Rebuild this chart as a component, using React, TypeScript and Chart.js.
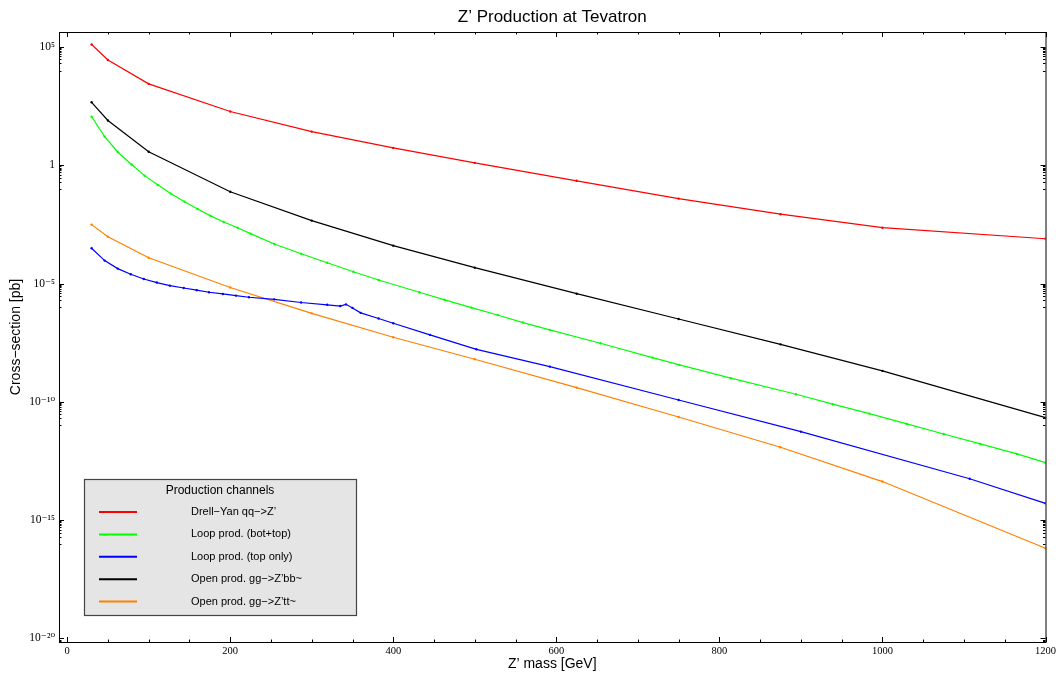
import { useEffect, useRef } from 'react';
import { Chart, registerables } from 'chart.js';

Chart.register(...registerables);

// Z' masses (GeV) where the Drell–Yan and open-production channels were evaluated
const massCoarse = [30, 50, 100, 200, 300, 400, 500, 625, 750, 875, 1000, 1200];
// Cross-sections in pb
const xsDrellYan = [1.26e5, 2.8e4, 2.75e3, 186, 26.3, 5.4, 1.26, 0.219, 0.0389, 8.5e-3, 2.29e-3, 7.8e-4];
const xsOpenBB = [457, 77.6, 3.72, 0.0759, 4.57e-3, 3.98e-4, 4.68e-5, 3.72e-6, 3.16e-7, 2.69e-8, 2.04e-9, 2.14e-11];
const xsOpenTT = [3.09e-3, 9.55e-4, 1.23e-4, 6.76e-6, 5.5e-7, 5.37e-8, 6.31e-9, 3.98e-10, 2.29e-11, 1.2e-12, 4.27e-14, 6.46e-17];

// Loop-induced production, bottom + top quarks in the loop
const massLoopBT = [30, 46, 62, 79, 95, 111, 127, 144, 160, 176, 192, 209, 225, 254, 287, 319, 351, 382, 432, 463, 496, 528, 559, 592, 654, 718, 751, 814, 894, 939, 984, 1030, 1075, 1120, 1165, 1200];
const xsLoopBT = [112, 16.2, 3.63, 1.07, 0.363, 0.148, 0.0631, 0.0288, 0.0141, 7.24e-3, 3.98e-3, 2.29e-3, 1.29e-3, 4.68e-4, 1.82e-4, 7.59e-5, 3.16e-5, 1.41e-5, 4.27e-6, 2.04e-6, 9.55e-7, 4.68e-7, 2.24e-7, 1.1e-7, 3.0e-8, 7.41e-9, 3.63e-9, 1.0e-9, 2.09e-10, 7.94e-11, 3.16e-11, 1.17e-11, 4.37e-12, 1.66e-12, 6.31e-13, 2.69e-13];

// Loop-induced production, top quark only (threshold structure near 2 m_t)
const massLoopT = [30, 46, 62, 78, 94, 110, 126, 143, 159, 174, 191, 207, 223, 254, 287, 319, 335, 342, 350, 360, 382, 400, 445, 502, 592, 750, 900, 1107, 1200];
const xsLoopT = [3.09e-4, 9.33e-5, 4.27e-5, 2.45e-5, 1.55e-5, 1.1e-5, 8.13e-6, 6.46e-6, 5.25e-6, 4.27e-6, 3.63e-6, 3.09e-6, 2.63e-6, 2.14e-6, 1.58e-6, 1.26e-6, 1.12e-6, 1.32e-6, 9.33e-7, 5.75e-7, 3.31e-7, 2.09e-7, 6.76e-8, 1.66e-8, 3.09e-9, 1.2e-10, 5.5e-12, 5.62e-14, 5.13e-15];

const channelLabels = ['Drell\u2212Yan qq\u2212>Z\u2019', 'Loop prod. (bot+top)', 'Loop prod. (top only)', 'Open prod. gg\u2212>Z\u2019bb~', 'Open prod. gg\u2212>Z\u2019tt~'];
const channelColors = ['#ff0000', '#00ff00', '#0000ff', '#000000', '#ff8000'];

const xTickValues = [0, 200, 400, 600, 800, 1000, 1200];
const yTickExponents = [5, 0, -5, -10, -15, -20];
const yTickLabels = ['10\u2075', '1', '10\u207b\u2075', '10\u207b\u00b9\u2070', '10\u207b\u00b9\u2075', '10\u207b\u00b2\u2070'];

const chartTitle = 'Z\u2019 Production at Tevatron';
const legendTitle = 'Production channels';
const xTitle = 'Z\u2019 mass [GeV]';
const yTitle = 'Cross\u2212section [pb]';

const SANS = '"Liberation Sans", Arial, Helvetica, sans-serif';
const SERIF = '"Liberation Serif", "DejaVu Serif", "Times New Roman", serif';

const toPoints = (xs: number[], ys: number[]) => xs.map((x, i) => ({ x, y: ys[i] }));

// Frame with inward ticks on all four sides, the title and the boxed legend
const decorPlugin = {
  id: 'decor',
  afterDraw(chart: any) {
    const { ctx, chartArea, scales } = chart;
    const { left, right, top, bottom } = chartArea;
    const xs = scales.x;
    const ys = scales.y;
    ctx.save();

    ctx.strokeStyle = '#000';
    ctx.lineWidth = 1;
    ctx.strokeRect(left + 0.5, top + 0.5, right - left, bottom - top);

    ctx.beginPath();
    for (let v = 0; v <= 1200; v += 50) {
      const px = Math.round(xs.getPixelForValue(v)) + 0.5;
      const len = v % 200 === 0 ? 5 : 2.5;
      ctx.moveTo(px, bottom);
      ctx.lineTo(px, bottom - len);
      ctx.moveTo(px, top);
      ctx.lineTo(px, top + len);
    }
    const yMin = ys.min;
    const yMax = ys.max;
    yTickExponents.forEach((e) => {
      const major = Math.pow(10, e);
      if (major >= yMin && major <= yMax) {
        const py = Math.round(ys.getPixelForValue(major)) + 0.5;
        ctx.moveTo(left, py);
        ctx.lineTo(left + 5, py);
        ctx.moveTo(right, py);
        ctx.lineTo(right - 5, py);
      }
      for (let m = 1; m <= 9; m++) {
        const v = m * Math.pow(10, e - 1);
        if (v < yMin || v > yMax) continue;
        const py = Math.round(ys.getPixelForValue(v)) + 0.5;
        ctx.moveTo(left, py);
        ctx.lineTo(left + 2.5, py);
        ctx.moveTo(right, py);
        ctx.lineTo(right - 2.5, py);
      }
    });
    ctx.stroke();

    // title
    ctx.fillStyle = '#000';
    ctx.font = `17px ${SANS}`;
    ctx.textAlign = 'center';
    ctx.textBaseline = 'middle';
    ctx.fillText(chartTitle, (left + right) / 2, 17);

    // legend box
    const bx = left + 25;
    const bw = 272;
    const bh = 136;
    const by = bottom - 27 - bh;
    ctx.fillStyle = '#e5e5e5';
    ctx.fillRect(bx, by, bw, bh);
    ctx.strokeStyle = '#444';
    ctx.lineWidth = 1.2;
    ctx.strokeRect(bx + 0.5, by + 0.5, bw, bh);

    ctx.fillStyle = '#000';
    ctx.font = `12px ${SANS}`;
    ctx.textAlign = 'center';
    ctx.fillText(legendTitle, bx + bw / 2, by + 11.5);

    ctx.font = `11px ${SANS}`;
    ctx.textAlign = 'left';
    chart.data.datasets.forEach((ds: any, i: number) => {
      const yy = by + 33 + i * 22.4;
      ctx.strokeStyle = ds.borderColor;
      ctx.lineWidth = 2;
      ctx.beginPath();
      ctx.moveTo(bx + 15, yy);
      ctx.lineTo(bx + 53, yy);
      ctx.stroke();
      ctx.fillStyle = '#000';
      ctx.fillText(ds.label, bx + 107, yy);
    });

    ctx.restore();
  },
};

export default function App() {
  const canvasRef = useRef<HTMLCanvasElement>(null);

  useEffect(() => {
    const seriesX = [massCoarse, massLoopBT, massLoopT, massCoarse, massCoarse];
    const seriesY = [xsDrellYan, xsLoopBT, xsLoopT, xsOpenBB, xsOpenTT];

    const chart = new Chart(canvasRef.current as HTMLCanvasElement, {
      type: 'line',
      data: {
        datasets: channelLabels.map((label, i) => ({
          label,
          data: toPoints(seriesX[i], seriesY[i]),
          borderColor: channelColors[i],
          backgroundColor: channelColors[i],
          borderWidth: 1.2,
          pointRadius: 1.2,
          pointBorderWidth: 0,
          pointHoverRadius: 0,
          tension: 0,
          fill: false,
        })),
      },
      options: {
        responsive: false,
        maintainAspectRatio: false,
        animation: false,
        events: [],
        layout: { padding: { top: 32, right: 13, bottom: 0, left: 0 } },
        plugins: {
          legend: { display: false },
          title: { display: false },
          tooltip: { enabled: false },
        },
        scales: {
          x: {
            type: 'linear',
            min: -10,
            max: 1200,
            grid: { display: false, drawTicks: false },
            border: { display: false },
            ticks: {
              padding: 3,
              autoSkip: false,
              maxRotation: 0,
              color: '#000',
              font: { family: SERIF, size: 10.5 },
              callback: (v: any) => String(v),
            },
            afterBuildTicks: (scale: any) => {
              scale.ticks = xTickValues.map((value) => ({ value }));
            },
            afterFit: (scale: any) => {
              scale.height = 40;
            },
            title: {
              display: true,
              text: xTitle,
              color: '#000',
              font: { family: SANS, size: 14 },
              padding: { top: 0, bottom: 9.6 },
            },
          },
          y: {
            type: 'logarithmic',
            min: Math.pow(10, -20.15),
            max: Math.pow(10, 5.63),
            grid: { display: false, drawTicks: false },
            border: { display: false },
            ticks: {
              padding: 4,
              autoSkip: false,
              color: '#000',
              font: { family: SERIF, size: 11.5 },
              callback: (v: any) => {
                const idx = yTickExponents.indexOf(Math.round(Math.log10(Number(v))));
                return idx >= 0 ? yTickLabels[idx] : '';
              },
            },
            afterBuildTicks: (scale: any) => {
              scale.ticks = yTickExponents.map((e) => ({ value: Math.pow(10, e) }));
            },
            afterFit: (scale: any) => {
              scale.width = 59;
            },
            title: {
              display: true,
              text: yTitle,
              color: '#000',
              font: { family: SANS, size: 14 },
              padding: { top: 8, bottom: 0 },
            },
          },
        },
      },
      plugins: [decorPlugin],
    } as any);

    return () => chart.destroy();
  }, []);

  return (
    <div style={{ position: 'absolute', left: 0, top: 0, width: 1059, height: 682, background: '#fff' }}>
      <canvas ref={canvasRef} width={1059} height={682} style={{ display: 'block' }} />
    </div>
  );
}
